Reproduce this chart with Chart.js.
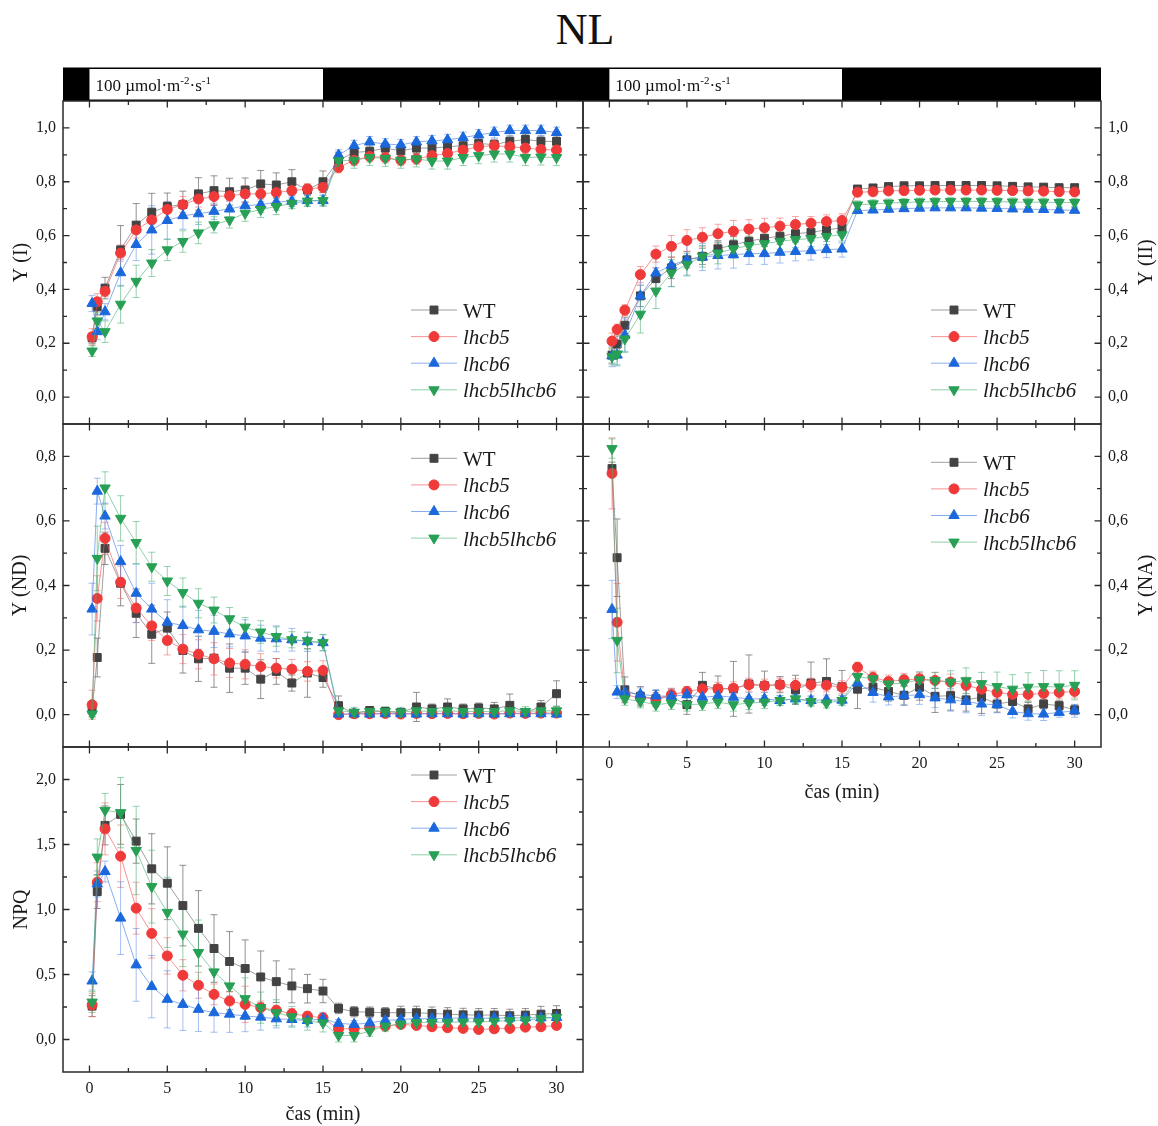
<!DOCTYPE html>
<html><head><meta charset="utf-8">
<script src="https://cdn.jsdelivr.net/npm/chart.js@4.4.1/dist/chart.umd.min.js"></script>
<style>
html,body{margin:0;padding:0;background:#fff;}
#wrap{position:relative;width:1158px;height:1126px;overflow:hidden;background:#fff;}
canvas{position:absolute;left:0;top:0;}
#title{position:absolute;left:0;width:1170px;top:4px;text-align:center;font:44px "Liberation Serif",serif;color:#111;}
</style></head><body><div id="wrap">
<div id="title">NL</div>
<canvas id="cI" width="1158" height="1126"></canvas>
<canvas id="cII" width="1158" height="1126"></canvas>
<canvas id="cND" width="1158" height="1126"></canvas>
<canvas id="cNA" width="1158" height="1126"></canvas>
<canvas id="cNPQ" width="1158" height="1126"></canvas>
</div>
<script>
// ---------- data ----------
const time = [0.17,0.5,1,2,3,4,5,6,7,8,9,10,11,12,13,14,15,16,17,18,19,20,21,22,23,24,25,26,27,28,29,30];
const seriesNames = ['WT','lhcb5','lhcb6','lhcb5lhcb6'];
const xTicks = [0,5,10,15,20,25,30];
const xMinor = [2.5,7.5,12.5,17.5,22.5,27.5];
const yTicksI = [0,0.2,0.4,0.6,0.8,1.0];
const yMinorI = [0.1,0.3,0.5,0.7,0.9];
const yTicksND = [0,0.2,0.4,0.6,0.8];
const yMinorND = [0.1,0.3,0.5,0.7];
const yTicksNPQ = [0,0.5,1.0,1.5,2.0];
const yMinorNPQ = [0.25,0.75,1.25,1.75];

// Y (I)
const yI_WT   = [0.22,0.335,0.405,0.547,0.639,0.687,0.708,0.715,0.755,0.767,0.763,0.769,0.792,0.788,0.80,0.77,0.80,0.88,0.909,0.913,0.925,0.915,0.925,0.925,0.93,0.934,0.942,0.938,0.95,0.957,0.95,0.95];
const yI_l5   = [0.224,0.354,0.393,0.535,0.621,0.658,0.697,0.715,0.736,0.745,0.748,0.755,0.755,0.76,0.767,0.773,0.779,0.853,0.88,0.894,0.89,0.88,0.885,0.897,0.905,0.918,0.93,0.934,0.93,0.925,0.92,0.918];
const yI_l6   = [0.348,0.243,0.317,0.462,0.567,0.621,0.656,0.674,0.681,0.69,0.699,0.711,0.715,0.724,0.728,0.73,0.73,0.899,0.934,0.948,0.94,0.937,0.948,0.952,0.956,0.964,0.974,0.983,0.99,0.99,0.99,0.983];
const yI_l56  = [0.171,0.283,0.243,0.345,0.43,0.498,0.547,0.578,0.61,0.64,0.658,0.683,0.697,0.708,0.72,0.728,0.73,0.878,0.88,0.89,0.887,0.88,0.885,0.877,0.877,0.89,0.897,0.903,0.903,0.89,0.892,0.89];
const eI_WT   = [0.02,0.03,0.04,0.09,0.08,0.07,0.05,0.05,0.06,0.055,0.05,0.045,0.05,0.045,0.045,0.02,0.04,0.03,0.02,0.02,0.02,0.02,0.02,0.02,0.02,0.02,0.02,0.02,0.02,0.02,0.02,0.02];
const eI_l5   = [0.03,0.03,0.02,0.03,0.03,0.03,0.03,0.03,0.03,0.03,0.02,0.03,0.02,0.02,0.02,0.02,0.02,0.02,0.02,0.02,0.02,0.02,0.02,0.02,0.02,0.02,0.02,0.02,0.02,0.02,0.02,0.02];
const eI_l6   = [0.03,0.03,0.03,0.05,0.06,0.09,0.07,0.05,0.04,0.03,0.03,0.03,0.03,0.03,0.02,0.02,0.02,0.02,0.02,0.02,0.02,0.02,0.02,0.02,0.02,0.02,0.02,0.02,0.02,0.02,0.02,0.02];
const eI_l56  = [0.02,0.03,0.04,0.07,0.06,0.05,0.04,0.04,0.04,0.03,0.03,0.03,0.03,0.03,0.02,0.02,0.02,0.03,0.03,0.03,0.03,0.03,0.03,0.03,0.03,0.03,0.03,0.03,0.03,0.03,0.03,0.03];

// Y (II)
const yII_WT  = [0.156,0.197,0.267,0.376,0.44,0.48,0.51,0.523,0.551,0.566,0.579,0.59,0.598,0.607,0.612,0.621,0.629,0.773,0.777,0.782,0.785,0.785,0.786,0.786,0.786,0.786,0.785,0.783,0.781,0.78,0.778,0.778];
const yII_l5  = [0.208,0.251,0.323,0.455,0.531,0.56,0.582,0.594,0.607,0.616,0.624,0.629,0.635,0.641,0.646,0.652,0.656,0.761,0.763,0.766,0.767,0.768,0.769,0.769,0.769,0.769,0.768,0.767,0.766,0.765,0.763,0.762];
const yII_l6  = [0.153,0.156,0.23,0.376,0.461,0.49,0.51,0.52,0.526,0.529,0.533,0.533,0.538,0.541,0.544,0.548,0.55,0.693,0.695,0.698,0.7,0.702,0.703,0.703,0.703,0.702,0.701,0.699,0.698,0.697,0.695,0.694];
const yII_l56 = [0.15,0.16,0.216,0.308,0.394,0.461,0.493,0.523,0.535,0.551,0.563,0.57,0.579,0.585,0.589,0.597,0.603,0.714,0.718,0.721,0.723,0.725,0.726,0.727,0.727,0.727,0.726,0.725,0.724,0.724,0.723,0.723];
const eII_WT  = [0.03,0.03,0.03,0.04,0.04,0.04,0.03,0.03,0.03,0.03,0.03,0.03,0.03,0.03,0.03,0.03,0.03,0.01,0.01,0.01,0.01,0.01,0.01,0.01,0.01,0.01,0.01,0.01,0.01,0.01,0.01,0.01];
const eII_l5  = [0.03,0.02,0.02,0.03,0.03,0.04,0.04,0.035,0.035,0.04,0.035,0.035,0.03,0.03,0.025,0.025,0.025,0.01,0.01,0.01,0.01,0.01,0.01,0.01,0.01,0.01,0.01,0.01,0.01,0.01,0.01,0.01];
const eII_l6  = [0.04,0.04,0.06,0.08,0.07,0.08,0.06,0.05,0.05,0.05,0.04,0.04,0.04,0.035,0.035,0.03,0.03,0.01,0.01,0.01,0.01,0.01,0.01,0.01,0.01,0.01,0.01,0.01,0.01,0.01,0.01,0.01];
const eII_l56 = [0.03,0.04,0.05,0.07,0.065,0.05,0.04,0.04,0.04,0.035,0.035,0.035,0.03,0.03,0.03,0.03,0.03,0.015,0.015,0.015,0.015,0.015,0.015,0.015,0.015,0.015,0.015,0.015,0.015,0.015,0.015,0.015];

// Y (ND)
const yND_WT  = [0.015,0.177,0.515,0.407,0.314,0.249,0.268,0.199,0.173,0.175,0.144,0.144,0.11,0.134,0.098,0.129,0.115,0.028,0.003,0.013,0.01,0.007,0.024,0.018,0.024,0.018,0.021,0.018,0.029,0.007,0.024,0.065];
const yND_l5  = [0.031,0.36,0.546,0.41,0.33,0.275,0.23,0.203,0.187,0.173,0.16,0.156,0.149,0.144,0.141,0.134,0.137,0.0,0.003,0.003,0.004,0.002,0.004,0.003,0.004,0.003,0.004,0.002,0.005,0.004,0.005,0.005];
const yND_l6  = [0.327,0.692,0.615,0.474,0.376,0.327,0.286,0.276,0.263,0.258,0.25,0.244,0.237,0.235,0.232,0.226,0.223,0.002,0.003,0.002,0.003,0.003,0.002,0.003,0.003,0.002,0.003,0.002,0.003,0.003,0.003,0.002];
const yND_l56 = [0.002,0.484,0.702,0.608,0.533,0.458,0.414,0.378,0.345,0.324,0.297,0.271,0.256,0.242,0.232,0.229,0.223,0.012,0.008,0.01,0.01,0.008,0.012,0.01,0.012,0.01,0.01,0.01,0.012,0.01,0.012,0.012];
const eND_WT  = [0.02,0.06,0.05,0.07,0.075,0.09,0.05,0.07,0.07,0.09,0.075,0.05,0.06,0.04,0.025,0.075,0.03,0.03,0.01,0.01,0.01,0.01,0.045,0.015,0.025,0.015,0.015,0.02,0.035,0.01,0.02,0.04];
const eND_l5  = [0.045,0.07,0.05,0.05,0.045,0.045,0.045,0.045,0.045,0.05,0.045,0.045,0.04,0.03,0.03,0.03,0.03,0.005,0.005,0.005,0.005,0.005,0.005,0.005,0.005,0.005,0.005,0.005,0.005,0.005,0.005,0.005];
const eND_l6  = [0.08,0.04,0.04,0.05,0.09,0.08,0.07,0.06,0.06,0.05,0.04,0.05,0.04,0.04,0.035,0.03,0.025,0.005,0.005,0.005,0.005,0.005,0.005,0.005,0.005,0.005,0.005,0.005,0.005,0.005,0.005,0.005];
const eND_l56 = [0.01,0.1,0.05,0.07,0.065,0.045,0.045,0.045,0.045,0.04,0.035,0.03,0.035,0.03,0.025,0.025,0.025,0.015,0.015,0.015,0.015,0.015,0.015,0.015,0.015,0.015,0.015,0.015,0.015,0.015,0.015,0.015];

// Y (NA)
const yNA_WT  = [0.762,0.486,0.077,0.057,0.05,0.055,0.031,0.091,0.08,0.08,0.095,0.09,0.093,0.077,0.098,0.103,0.087,0.079,0.085,0.072,0.06,0.085,0.057,0.059,0.046,0.054,0.033,0.041,0.018,0.033,0.028,0.015];
const yNA_l5  = [0.747,0.286,0.062,0.052,0.049,0.062,0.072,0.08,0.08,0.082,0.093,0.09,0.093,0.091,0.093,0.091,0.085,0.147,0.115,0.103,0.108,0.111,0.106,0.101,0.091,0.079,0.069,0.063,0.063,0.066,0.069,0.072];
const yNA_l6  = [0.326,0.07,0.069,0.063,0.058,0.057,0.062,0.054,0.058,0.054,0.049,0.049,0.044,0.049,0.044,0.046,0.045,0.098,0.069,0.055,0.059,0.062,0.052,0.046,0.041,0.033,0.031,0.01,0.003,0.002,0.007,0.012];
const yNA_l56 = [0.824,0.23,0.049,0.041,0.031,0.036,0.031,0.033,0.039,0.031,0.036,0.039,0.044,0.049,0.041,0.036,0.044,0.118,0.111,0.095,0.098,0.108,0.106,0.101,0.105,0.096,0.087,0.079,0.085,0.087,0.086,0.091];
const eNA_WT  = [0.02,0.12,0.04,0.03,0.025,0.025,0.03,0.04,0.04,0.085,0.09,0.045,0.025,0.045,0.065,0.07,0.05,0.06,0.025,0.03,0.03,0.04,0.05,0.045,0.035,0.05,0.025,0.03,0.02,0.015,0.015,0.015];
const eNA_l5  = [0.11,0.12,0.02,0.02,0.02,0.02,0.015,0.02,0.02,0.02,0.02,0.02,0.02,0.02,0.02,0.02,0.02,0.015,0.02,0.02,0.02,0.02,0.025,0.025,0.025,0.025,0.02,0.02,0.02,0.02,0.02,0.02];
const eNA_l6  = [0.09,0.02,0.02,0.02,0.02,0.02,0.02,0.02,0.02,0.02,0.02,0.02,0.015,0.015,0.015,0.015,0.015,0.03,0.03,0.025,0.03,0.03,0.03,0.035,0.035,0.035,0.025,0.02,0.02,0.02,0.015,0.02];
const eNA_l56 = [0.03,0.1,0.02,0.02,0.02,0.02,0.02,0.02,0.02,0.02,0.02,0.02,0.015,0.015,0.015,0.015,0.015,0.02,0.02,0.02,0.025,0.025,0.025,0.035,0.04,0.035,0.045,0.045,0.045,0.05,0.05,0.045];

// NPQ
const npq_WT  = [0.257,1.138,1.647,1.732,1.526,1.313,1.202,1.03,0.855,0.70,0.60,0.546,0.481,0.445,0.412,0.391,0.373,0.239,0.214,0.21,0.206,0.206,0.206,0.2,0.195,0.19,0.188,0.188,0.183,0.188,0.195,0.2];
const npq_l5  = [0.265,1.21,1.62,1.41,1.01,0.816,0.643,0.494,0.417,0.347,0.296,0.27,0.245,0.224,0.198,0.18,0.167,0.082,0.082,0.09,0.103,0.116,0.108,0.098,0.09,0.085,0.077,0.082,0.085,0.095,0.098,0.108];
const npq_l6  = [0.45,1.197,1.292,0.934,0.574,0.407,0.309,0.27,0.232,0.206,0.195,0.18,0.172,0.159,0.154,0.146,0.159,0.124,0.116,0.128,0.146,0.154,0.16,0.16,0.163,0.165,0.163,0.165,0.165,0.167,0.167,0.17];
const npq_l56 = [0.288,1.403,1.763,1.745,1.454,1.176,0.978,0.811,0.669,0.52,0.412,0.314,0.245,0.206,0.175,0.142,0.128,0.031,0.031,0.065,0.103,0.12,0.13,0.133,0.133,0.135,0.135,0.14,0.145,0.15,0.16,0.17];
const enpq_WT = [0.08,0.13,0.15,0.23,0.17,0.27,0.28,0.31,0.29,0.26,0.23,0.22,0.2,0.16,0.13,0.11,0.09,0.04,0.04,0.04,0.04,0.05,0.05,0.05,0.05,0.05,0.05,0.05,0.05,0.05,0.06,0.06];
const enpq_l5 = [0.09,0.15,0.2,0.24,0.2,0.19,0.14,0.12,0.1,0.08,0.07,0.14,0.05,0.04,0.04,0.03,0.03,0.02,0.02,0.02,0.02,0.02,0.02,0.02,0.02,0.02,0.02,0.02,0.02,0.02,0.02,0.02];
const enpq_l6 = [0.07,0.1,0.08,0.28,0.28,0.24,0.22,0.2,0.17,0.15,0.14,0.12,0.1,0.07,0.05,0.05,0.05,0.03,0.03,0.03,0.03,0.03,0.03,0.03,0.03,0.03,0.03,0.03,0.03,0.03,0.03,0.03];
const enpq_l56= [0.08,0.14,0.13,0.27,0.34,0.28,0.27,0.25,0.25,0.2,0.18,0.16,0.12,0.1,0.08,0.07,0.07,0.05,0.05,0.04,0.04,0.03,0.03,0.03,0.03,0.03,0.03,0.03,0.03,0.03,0.03,0.03];

// ---------- styles ----------
const FONT = '"Liberation Serif", "Times New Roman", serif';
const markerColors = ['#434343','#f03a3a','#1b68dc','#27a055'];
const lineColors   = ['rgba(120,120,120,0.7)','rgba(240,90,90,0.65)','rgba(60,120,225,0.6)','rgba(70,175,110,0.6)'];
const errColors    = ['rgba(110,110,110,0.75)','rgba(240,110,110,0.6)','rgba(90,140,230,0.55)','rgba(80,180,120,0.6)'];
const pStyles = ['rect','circle','triangle','triangle'];
const pRot = [0,0,0,180];
const pRad = [5.6,5,6,6];

const W = 1158, H = 1126;
const YAXW = 50, XAXH = 34;

function drawTextSup(ctx, parts, x, y) {
  let cx = x;
  parts.forEach(p => {
    ctx.font = (p.sup ? '11px ' : '17px ') + FONT;
    ctx.fillText(p.t, cx, p.sup ? y - 7 : y);
    cx += ctx.measureText(p.t).width;
  });
}

const panelPlugin = {
  id: 'panel',
  beforeDatasetsDraw(chart, args, o) {
    const ctx = chart.ctx, xs = chart.scales.x, ys = chart.scales.y, a = chart.chartArea;
    ctx.save();
    ctx.beginPath(); ctx.rect(a.left, a.top, a.right - a.left, a.bottom - a.top); ctx.clip();
    ctx.lineWidth = 1;
    chart.data.datasets.forEach((ds, i) => {
      const err = o.errors[i];
      ctx.strokeStyle = errColors[i];
      ds.data.forEach((p, j) => {
        const x = xs.getPixelForValue(p.x);
        const y1 = ys.getPixelForValue(p.y - err[j]);
        const y2 = ys.getPixelForValue(p.y + err[j]);
        ctx.beginPath();
        ctx.moveTo(x, y1); ctx.lineTo(x, y2);
        ctx.moveTo(x - 3.5, y1); ctx.lineTo(x + 3.5, y1);
        ctx.moveTo(x - 3.5, y2); ctx.lineTo(x + 3.5, y2);
        ctx.stroke();
      });
    });
    ctx.restore();
  },
  afterDraw(chart, args, o) {
    const ctx = chart.ctx, xs = chart.scales.x, ys = chart.scales.y, a = chart.chartArea;
    ctx.save();
    if (o.lightBar) {
      ctx.fillStyle = '#000';
      ctx.fillRect(a.left, 67.5, a.right - a.left, a.top - 67.5);
      const x0 = xs.getPixelForValue(0), x15 = xs.getPixelForValue(15);
      ctx.fillStyle = '#fff';
      ctx.fillRect(x0, 69, x15 - x0, a.top - 70.5);
      ctx.fillStyle = '#111';
      ctx.textBaseline = 'alphabetic'; ctx.textAlign = 'left';
      drawTextSup(ctx, [{t:'100 \u00B5mol\u00B7m'},{t:'-2',sup:true},{t:'\u00B7s'},{t:'-1',sup:true}], x0 + 6, 91);
    }
    ctx.strokeStyle = '#2a2a2a'; ctx.lineWidth = 1.5;
    ctx.strokeRect(a.left, a.top, a.right - a.left, a.bottom - a.top);
    ctx.lineWidth = 1.3;
    const tickX = (vals, len) => vals.forEach(v => {
      const x = xs.getPixelForValue(v);
      ctx.beginPath();
      ctx.moveTo(x, a.bottom); ctx.lineTo(x, a.bottom - len);
      ctx.moveTo(x, a.top); ctx.lineTo(x, a.top + len);
      ctx.stroke();
    });
    const tickY = (vals, len) => vals.forEach(v => {
      const y = ys.getPixelForValue(v);
      ctx.beginPath();
      ctx.moveTo(a.left, y); ctx.lineTo(a.left + len, y);
      ctx.moveTo(a.right, y); ctx.lineTo(a.right - len, y);
      ctx.stroke();
    });
    tickX(xTicks, 6.5); tickX(xMinor, 4);
    tickY(o.yMajor, 6.5); tickY(o.yMinor, 4);
    chart.data.datasets.forEach((ds, i) => {
      const y = o.legY + i * 26.6;
      ctx.strokeStyle = lineColors[i]; ctx.lineWidth = 1;
      ctx.beginPath(); ctx.moveTo(o.legX1, y); ctx.lineTo(o.legX2, y); ctx.stroke();
      ctx.fillStyle = markerColors[i]; ctx.strokeStyle = markerColors[i];
      Chart.helpers.drawPoint(ctx, {pointStyle: pStyles[i], rotation: pRot[i], radius: pRad[i], borderWidth: 1}, (o.legX1 + o.legX2) / 2, y);
      ctx.fillStyle = '#1a1a1a';
      ctx.font = (i === 0 ? '' : 'italic ') + '21px ' + FONT;
      ctx.textAlign = 'left'; ctx.textBaseline = 'alphabetic';
      ctx.fillText(ds.label, o.legX2 + 6, y + 7.5);
    });
    ctx.fillStyle = '#1a1a1a';
    ctx.font = '20px ' + FONT;
    ctx.textAlign = 'center'; ctx.textBaseline = 'middle';
    ctx.save();
    ctx.translate(o.yTitleX, (a.top + a.bottom) / 2);
    ctx.rotate(-Math.PI / 2);
    ctx.fillText(o.yTitle, 0, 0);
    ctx.restore();
    if (o.xTitle) {
      ctx.fillText(o.xTitle, (a.left + a.right) / 2, o.xTitleY);
    }
    ctx.restore();
  }
};

function makeChart(id, box, vals, errs, cfg) {
  const datasets = vals.map((v, i) => ({
    label: seriesNames[i],
    data: time.map((t, j) => ({x: t, y: v[j]})),
    borderColor: lineColors[i],
    backgroundColor: markerColors[i],
    pointBackgroundColor: markerColors[i],
    pointBorderColor: markerColors[i],
    pointBorderWidth: 1,
    pointStyle: pStyles[i],
    pointRotation: pRot[i],
    pointRadius: pRad[i],
    borderWidth: 1,
    tension: 0,
    order: 3 - i
  }));
  const tickFont = {family: FONT, size: 16};
  const pad = {
    left: cfg.side === 'left' ? box[0] - YAXW : box[0],
    right: cfg.side === 'right' ? W - box[2] - YAXW : W - box[2],
    top: box[1],
    bottom: H - box[3] - XAXH
  };
  return new Chart(document.getElementById(id), {
    type: 'line',
    data: {datasets},
    plugins: [panelPlugin],
    options: {
      responsive: false, animation: false, devicePixelRatio: 1, events: [],
      layout: {padding: pad},
      scales: {
        x: {
          type: 'linear', position: 'bottom', min: -1.7, max: 31.7,
          grid: {display: false, drawTicks: false}, border: {display: false},
          ticks: {display: !!cfg.xLabels, padding: 7, font: tickFont, color: '#1a1a1a', maxRotation: 0, minRotation: 0, autoSkip: false,
                  callback: v => String(v)},
          afterBuildTicks: s => { s.ticks = xTicks.map(v => ({value: v})); },
          afterFit: s => { s.height = XAXH; }
        },
        y: {
          type: 'linear', position: cfg.side, min: cfg.yMin, max: cfg.yMax,
          grid: {display: false, drawTicks: false}, border: {display: false},
          ticks: {padding: 7, font: tickFont, color: '#1a1a1a', autoSkip: false,
                  callback: v => v.toFixed(1).replace('.', ',')},
          afterBuildTicks: s => { s.ticks = cfg.yMajor.map(v => ({value: v})); },
          afterFit: s => { s.width = YAXW; }
        }
      },
      plugins: {
        legend: {display: false}, tooltip: {enabled: false}, title: {display: false},
        panel: Object.assign({errors: errs}, cfg)
      }
    }
  });
}

const L = 63, M = 583, R = 1101;
makeChart('cI', [L, 101, M, 424], [yI_WT, yI_l5, yI_l6, yI_l56], [eI_WT, eI_l5, eI_l6, eI_l56],
  {side: 'left', yMin: -0.1, yMax: 1.1, yMajor: yTicksI, yMinor: yMinorI, lightBar: true,
   legX1: 411, legX2: 457, legY: 310, yTitle: 'Y (I)', yTitleX: 22});
makeChart('cII', [M, 101, R, 424], [yII_WT, yII_l5, yII_l6, yII_l56], [eII_WT, eII_l5, eII_l6, eII_l56],
  {side: 'right', yMin: -0.1, yMax: 1.1, yMajor: yTicksI, yMinor: yMinorI, lightBar: true,
   legX1: 931, legX2: 977, legY: 310, yTitle: 'Y (II)', yTitleX: 1147});
makeChart('cND', [L, 424, M, 747], [yND_WT, yND_l5, yND_l6, yND_l56], [eND_WT, eND_l5, eND_l6, eND_l56],
  {side: 'left', yMin: -0.1, yMax: 0.9, yMajor: yTicksND, yMinor: yMinorND,
   legX1: 411, legX2: 457, legY: 458.3, yTitle: 'Y (ND)', yTitleX: 21});
makeChart('cNA', [M, 424, R, 747], [yNA_WT, yNA_l5, yNA_l6, yNA_l56], [eNA_WT, eNA_l5, eNA_l6, eNA_l56],
  {side: 'right', yMin: -0.1, yMax: 0.9, yMajor: yTicksND, yMinor: yMinorND, xLabels: true,
   legX1: 931, legX2: 977, legY: 462.3, yTitle: 'Y (NA)', yTitleX: 1147, xTitle: 'čas (min)', xTitleY: 793});
makeChart('cNPQ', [L, 747, M, 1072], [npq_WT, npq_l5, npq_l6, npq_l56], [enpq_WT, enpq_l5, enpq_l6, enpq_l56],
  {side: 'left', yMin: -0.25, yMax: 2.25, yMajor: yTicksNPQ, yMinor: yMinorNPQ, xLabels: true,
   legX1: 411, legX2: 457, legY: 775, yTitle: 'NPQ', yTitleX: 22, xTitle: 'čas (min)', xTitleY: 1115});
</script>
</body></html>
